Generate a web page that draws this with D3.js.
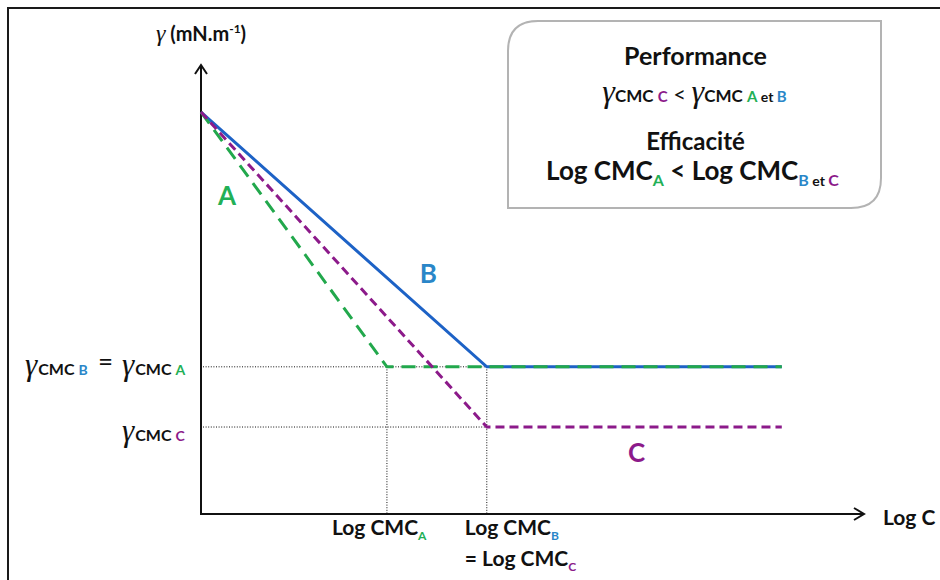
<!DOCTYPE html>
<html>
<head>
<meta charset="utf-8">
<script src="https://cdn.jsdelivr.net/npm/d3@7"></script>
<style>
  body { margin: 0; background: #fff; }
  svg { display: block; }
  text { font-family: Lato, "Open Sans", sans-serif; font-weight: bold; fill: #111; }
  .gam { font-family: "Liberation Serif", "DejaVu Serif", serif; font-style: italic; font-weight: normal; }
</style>
</head>
<body>
<svg id="chart" viewBox="0 0 940 580" width="940" height="580"></svg>
<script>
// Schematic data: surface tension (gamma) vs log of concentration
const seriesNames = ["B", "A", "C"];
const logC_A = [0, 2.83, 8.84];
const gamma_A = [72.1, 26.4, 26.4];
const logC_B = [0, 4.35, 8.84];
const gamma_B = [72.1, 26.4, 26.4];
const logC_C = [0, 4.35, 8.84];
const gamma_C = [72.1, 15.6, 15.6];
const cmcLogC = [2.83, 4.35];      // Log CMC_A, Log CMC_B = Log CMC_C
const cmcGamma = [26.4, 15.6];     // gamma CMC A/B, gamma CMC C

const colors = { A: "#22a84c", B: "#1d62c6", C: "#8c1a8a" };
const labelColors = { A: "#22b056", B: "#2a86c8", C: "#8c1a8a" };

const svg = d3.select("#chart");

// outer frame (cropped at right and bottom)
svg.append("rect")
    .attr("x", 8).attr("y", 8)
    .attr("width", 960).attr("height", 600)
    .attr("fill", "none").attr("stroke", "#1a1a1a").attr("stroke-width", 2);

const x = d3.scaleLinear().domain([0, 10]).range([201, 858]);
const y = d3.scaleLinear().domain([0, 80]).range([514, 68]);

// dotted guides
const guides = svg.append("g")
    .attr("stroke", "#111").attr("stroke-width", 1).attr("stroke-dasharray", "1,1.6");
cmcGamma.forEach(g => {
    guides.append("line")
        .attr("x1", x(0) + 2).attr("x2", x(cmcLogC[1]))
        .attr("y1", y(g)).attr("y2", y(g));
});
cmcLogC.forEach(c => {
    guides.append("line")
        .attr("x1", x(c)).attr("x2", x(c))
        .attr("y1", y(cmcGamma[0])).attr("y2", y(0));
});

// axes with open arrow heads
const axisG = svg.append("g").attr("stroke", "#111").attr("fill", "none")
    .attr("stroke-width", 2);
axisG.append("line")
    .attr("x1", x(0)).attr("x2", x(0))
    .attr("y1", y(0) + 1).attr("y2", y(80) - 3);
axisG.append("path")
    .attr("d", `M${x(0) - 6},${y(80) + 6} L${x(0)},${y(80) - 3} L${x(0) + 6},${y(80) + 6}`);
axisG.append("line")
    .attr("x1", x(0) - 1).attr("x2", x(10) + 6)
    .attr("y1", y(0)).attr("y2", y(0));
axisG.append("path")
    .attr("d", `M${x(10) - 4},${y(0) - 6} L${x(10) + 6},${y(0)} L${x(10) - 4},${y(0) + 6}`);

// curves
const line = d3.line().x(d => x(d[0])).y(d => y(d[1]));
const curves = {
    A: d3.zip(logC_A, gamma_A),
    B: d3.zip(logC_B, gamma_B),
    C: d3.zip(logC_C, gamma_C)
};
const dashes = { A: "14,8", B: null, C: "9,5" };
seriesNames.forEach(name => {
    svg.append("path")
        .datum(curves[name])
        .attr("d", line)
        .attr("fill", "none")
        .attr("stroke", colors[name])
        .attr("stroke-width", 3)
        .attr("stroke-dasharray", dashes[name]);
});

// curve labels
const curveLabels = [
    { name: "A", lx: 0.26, ly: 55.4 },
    { name: "B", lx: 3.33, ly: 41.4 },
    { name: "C", lx: 6.5, ly: 9.3 }
];
curveLabels.forEach(d => {
    svg.append("text")
        .attr("x", x(d.lx)).attr("y", y(d.ly))
        .attr("font-size", 26)
        .style("fill", labelColors[d.name])
        .text(d.name);
});

// helper: gamma CMC label
function gammaLabel(g, xPos, yPos, letter) {
    const t = g.append("text").attr("x", xPos).attr("y", yPos);
    t.append("tspan").attr("class", "gam").attr("font-size", 31).text("γ");
    t.append("tspan").attr("font-size", 16).attr("dx", 1).text("CMC ");
    t.append("tspan").attr("font-size", 14).style("fill", labelColors[letter]).text(letter);
    return t;
}

// left labels
const left = svg.append("g");
gammaLabel(left, 25, y(cmcGamma[0]) + 8, "B");
left.append("text").attr("x", 98).attr("y", y(cmcGamma[0]) + 4)
    .attr("font-size", 26).style("font-weight", "normal").text("=");
gammaLabel(left, 122, y(cmcGamma[0]) + 8, "A");
gammaLabel(left, 122, y(cmcGamma[1]) + 14, "C");

// axis titles
const yt = svg.append("text").attr("x", x(0)).attr("y", 41).attr("text-anchor", "middle");
yt.append("tspan").attr("class", "gam").attr("font-size", 24).text("γ");
yt.append("tspan").attr("font-size", 20).text(" (mN.m");
yt.append("tspan").attr("font-size", 12).attr("dy", -8).text("-1");
yt.append("tspan").attr("font-size", 20).attr("dy", 8).text(")");

svg.append("text").attr("x", 883).attr("y", 525).attr("font-size", 21).text("Log C");

// x tick labels
function cmcText(parent, xPos, yPos, prefix, letter) {
    const t = parent.append("text").attr("x", xPos).attr("y", yPos).attr("font-size", 21);
    t.append("tspan").text(prefix);
    t.append("tspan").attr("font-size", 12).attr("dy", 5).style("fill", labelColors[letter]).text(letter);
    return t;
}
cmcText(svg, x(cmcLogC[0]) - 55, 535, "Log CMC", "A");
cmcText(svg, x(cmcLogC[1]) - 22, 535, "Log CMC", "B");
cmcText(svg, x(cmcLogC[1]) - 22, 566, "= Log CMC", "C");

// info box with rounded diagonal corners
const bx = 508, by = 21, bw = 373, bh = 187, r = 30;
svg.append("path")
    .attr("d", `M${bx + r},${by} H${bx + bw} V${by + bh - r} Q${bx + bw},${by + bh} ${bx + bw - r},${by + bh}
                H${bx} V${by + r} Q${bx},${by} ${bx + r},${by} Z`)
    .attr("fill", "#fff").attr("stroke", "#b3b3b3").attr("stroke-width", 2);

const cx = bx + bw / 2;
svg.append("text").attr("x", cx + 1).attr("y", 65).attr("text-anchor", "middle")
    .attr("font-size", 25).text("Performance");

const perf = svg.append("text").attr("x", cx).attr("y", 102).attr("text-anchor", "middle");
perf.append("tspan").attr("class", "gam").attr("font-size", 32).text("γ");
perf.append("tspan").attr("font-size", 17).text("CMC ");
perf.append("tspan").attr("font-size", 15).style("fill", labelColors.C).text("C");
perf.append("tspan").attr("font-size", 22).style("font-weight", "normal").text(" < ");
perf.append("tspan").attr("class", "gam").attr("font-size", 32).text("γ");
perf.append("tspan").attr("font-size", 17).text("CMC ");
perf.append("tspan").attr("font-size", 15).style("fill", labelColors.A).text("A");
perf.append("tspan").attr("font-size", 14).text(" et ");
perf.append("tspan").attr("font-size", 15).style("fill", labelColors.B).text("B");

svg.append("text").attr("x", cx + 1).attr("y", 150).attr("text-anchor", "middle")
    .attr("font-size", 24).text("Efficacité");

const eff = svg.append("text").attr("x", cx - 2).attr("y", 180).attr("text-anchor", "middle")
    .attr("font-size", 26);
eff.append("tspan").text("Log CMC");
eff.append("tspan").attr("font-size", 16).attr("dy", 6).style("fill", labelColors.A).text("A");
eff.append("tspan").attr("dy", -6).text(" < Log CMC");
eff.append("tspan").attr("font-size", 16).attr("dy", 6).style("fill", labelColors.B).text("B");
eff.append("tspan").attr("font-size", 14).text(" et ");
eff.append("tspan").attr("font-size", 16).style("fill", labelColors.C).text("C");
</script>
</body>
</html>
